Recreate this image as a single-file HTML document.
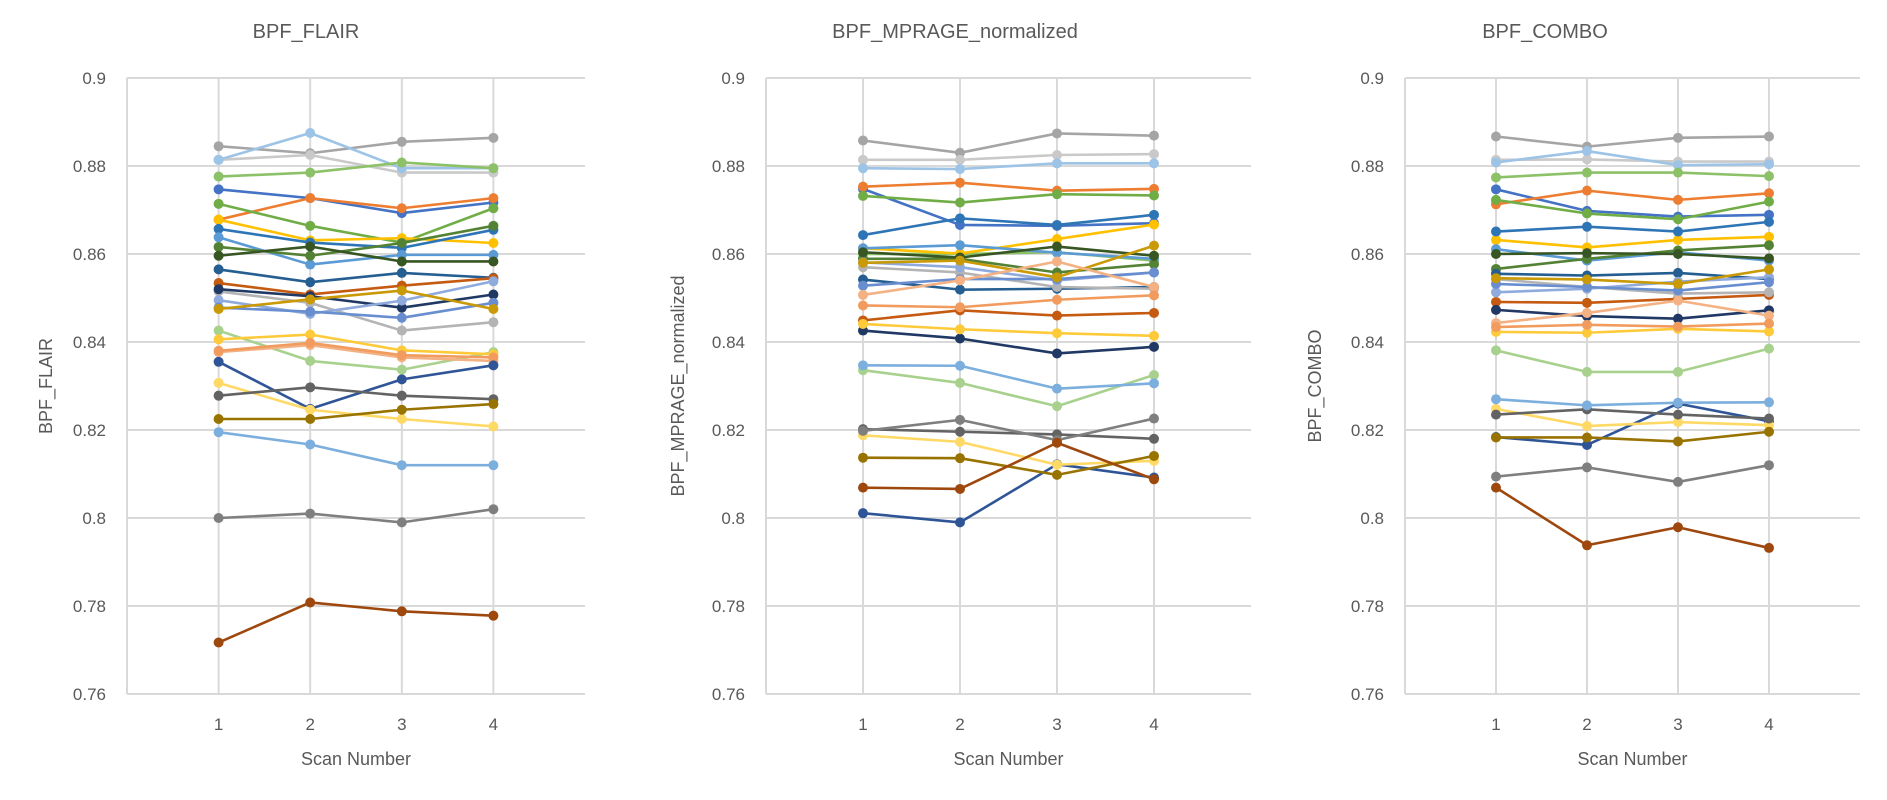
<!DOCTYPE html>
<html><head><meta charset="utf-8"><style>
html,body{margin:0;padding:0;background:#fff;}
svg{display:block;font-family:"Liberation Sans",sans-serif;}
</style></head><body>
<svg id="chart" width="1887" height="800" viewBox="0 0 1887 800" xmlns="http://www.w3.org/2000/svg"></svg>
<script>
const categories = ["1","2","3","4"];
const yTicks = [0.9,0.88,0.86,0.84,0.82,0.8,0.78,0.76];
const yTickLabels = ["0.9","0.88","0.86","0.84","0.82","0.8","0.78","0.76"];
const seriesColors = ["#A5A5A5","#C9C9C9","#9DC3E6","#8CC168","#4472C4","#ED7D31","#70AD47","#FFC000","#2E75B6","#5B9BD5","#548235","#375623","#255E91","#C55A11","#B4B4B4","#203864","#8FAADC","#698ED0","#C99A06","#A9D18E","#FFCA3A","#F4B183","#F19C5E","#2F5597","#FFD966","#636363","#997300","#7CAFDD","#7F7F7F","#9E480E"];
const panelTitles = ["BPF_FLAIR","BPF_MPRAGE_normalized","BPF_COMBO"];
const flairValues = [
[0.8845,0.8829,0.8855,0.8864],[0.8814,0.8825,0.8785,0.8785],[0.8814,0.8875,0.8795,0.8795],[0.8776,0.8785,0.8808,0.8795],
[0.8747,0.8727,0.8693,0.8717],[0.8678,0.8727,0.8704,0.8727],[0.8714,0.8664,0.8626,0.8704],[0.8678,0.8631,0.8636,0.8625],
[0.8657,0.8626,0.8614,0.8655],[0.8638,0.8576,0.8598,0.8598],[0.8616,0.8596,0.8625,0.8664],[0.8596,0.8617,0.8583,0.8583],
[0.8565,0.8536,0.8557,0.8546],[0.8534,0.8508,0.8528,0.8545],[0.8515,0.8489,0.8426,0.8445],[0.852,0.8504,0.8478,0.8508],
[0.8495,0.8464,0.8494,0.8538],[0.8478,0.8469,0.8455,0.8489],[0.8475,0.8497,0.8517,0.8475],[0.8426,0.8357,0.8337,0.8377],
[0.8406,0.8417,0.8381,0.8372],[0.8377,0.8393,0.8365,0.8357],[0.838,0.8398,0.837,0.8365],[0.8355,0.8248,0.8315,0.8347],
[0.8307,0.8246,0.8225,0.8208],[0.8278,0.8297,0.8278,0.827],[0.8225,0.8225,0.8246,0.8259],[0.8195,0.8167,0.812,0.812],
[0.80,0.801,0.799,0.802],[0.7717,0.7808,0.7788,0.7778]];
const mprageValues = [
[0.8858,0.883,0.8874,0.8869],[0.8814,0.8814,0.8825,0.8827],[0.8795,0.8793,0.8806,0.8806],[0.86,0.86,0.8604,0.8585],
[0.8748,0.8666,0.8664,0.867],[0.8753,0.8762,0.8744,0.8748],[0.8732,0.8717,0.8736,0.8733],[0.8613,0.8601,0.8634,0.8667],
[0.8643,0.8681,0.8666,0.8689],[0.8613,0.862,0.8603,0.8589],[0.8589,0.8589,0.8558,0.8577],[0.8604,0.8592,0.8617,0.8596],
[0.8542,0.8519,0.8521,0.8525],[0.8449,0.8472,0.846,0.8466],[0.857,0.8558,0.8525,0.8521],[0.8426,0.8408,0.8374,0.8389],
[0.8581,0.857,0.854,0.8558],[0.8528,0.8543,0.8543,0.8558],[0.858,0.8585,0.8547,0.8619],[0.8336,0.8307,0.8254,0.8325],
[0.8441,0.8429,0.842,0.8414],[0.8507,0.854,0.8583,0.8525],[0.8483,0.8479,0.8496,0.8506],[0.8011,0.799,0.8122,0.8092],
[0.8188,0.8173,0.8121,0.813],[0.8202,0.8196,0.819,0.818],[0.8137,0.8136,0.8098,0.8141],[0.8347,0.8346,0.8294,0.8306],
[0.8198,0.8223,0.8177,0.8226],[0.8069,0.8066,0.8171,0.8088]];
const comboValues = [
[0.8867,0.8844,0.8864,0.8867],[0.8814,0.8815,0.881,0.881],[0.8808,0.8834,0.8802,0.8804],[0.8774,0.8785,0.8785,0.8777],
[0.8747,0.8698,0.8685,0.8689],[0.8713,0.8744,0.8723,0.8738],[0.8723,0.8692,0.8679,0.8719],[0.8632,0.8615,0.8632,0.8639],
[0.8651,0.8662,0.8651,0.8673],[0.8611,0.8585,0.8604,0.8585],[0.8566,0.8589,0.8608,0.862],[0.86,0.8602,0.86,0.859],
[0.8555,0.8551,0.8557,0.8543],[0.8491,0.8489,0.8498,0.8507],[0.8543,0.8525,0.851,0.8513],[0.8473,0.8459,0.8453,0.8472],
[0.8513,0.8521,0.8537,0.8547],[0.8532,0.8525,0.8517,0.8536],[0.8545,0.8542,0.8532,0.8565],[0.8381,0.8332,0.8332,0.8385],
[0.8423,0.8421,0.843,0.8424],[0.8443,0.8466,0.8494,0.846],[0.8434,0.8439,0.8435,0.8442],[0.8184,0.8166,0.826,0.822],
[0.8248,0.8209,0.8218,0.8211],[0.8235,0.8247,0.8235,0.8226],[0.8183,0.8183,0.8174,0.8196],[0.827,0.8256,0.8262,0.8263],
[0.8094,0.8115,0.8082,0.812],[0.8069,0.7938,0.7979,0.7932]];

const NS="http://www.w3.org/2000/svg";
const svg=document.getElementById('chart');
const Y0=78, Y1=694, VMAX=0.9, VMIN=0.76;
function yScale(v){return Y0+(VMAX-v)/(VMAX-VMIN)*(Y1-Y0);}
function mk(tag,attrs,parent){const e=document.createElementNS(NS,tag);for(const k in attrs)e.setAttribute(k,attrs[k]);(parent||svg).appendChild(e);return e;}

const panels=[
 {axis:127,step:91.6,titleX:306,yTitleX:46,values:flairValues,key:"flair"},
 {axis:766,step:97,titleX:955,yTitleX:678,values:mprageValues,key:"mprage"},
 {axis:1405,step:91,titleX:1545,yTitleX:1315,values:comboValues,key:"combo"}
];
panels.forEach((p,pi)=>{
  const xScale=i=>p.axis+(i+1)*p.step;
  const right=p.axis+5*p.step;
  const g=mk('g',{});
  
  
  yTicks.forEach((t,i)=>{
    const gl=mk('line',{x1:p.axis,x2:right,y1:yScale(t),y2:yScale(t),stroke:'#D9D9D9','stroke-width':2},g);
    
    
    const tl=mk('text',{x:p.axis-21,y:yScale(t)+6,'text-anchor':'end','font-size':17,fill:'#595959'},g);
    tl.textContent=yTickLabels[i];
    
    
  });
  const ax=mk('line',{x1:p.axis,x2:p.axis,y1:Y0,y2:Y1,stroke:'#D9D9D9','stroke-width':2},g);
  
  
  categories.forEach((c,i)=>{
    const vl=mk('line',{x1:xScale(i),x2:xScale(i),y1:Y0,y2:Y1,stroke:'#D9D9D9','stroke-width':2},g);
    
    
    const xl=mk('text',{x:xScale(i),y:730,'text-anchor':'middle','font-size':17,fill:'#595959'},g);
    xl.textContent=c;
    
    
  });
  const tt=mk('text',{x:p.titleX,y:38,'text-anchor':'middle','font-size':20,fill:'#595959'},g);
  tt.textContent=panelTitles[pi];
  
  
  const xt=mk('text',{x:(p.axis+right)/2,y:765,'text-anchor':'middle','font-size':18,fill:'#595959'},g);
  xt.textContent='Scan Number';
  
  
  const yt=mk('text',{x:0,y:0,'text-anchor':'middle','font-size':18,fill:'#595959',transform:`translate(${p.yTitleX+6},386) rotate(-90)`},g);
  yt.textContent=panelTitles[pi];
  
  
  p.values.forEach((vals,si)=>{
    const col=seriesColors[si];
    const sg=mk('g',{},g);
    
    
    const pts=vals.map((v,i)=>xScale(i)+','+yScale(v)).join(' ');
    const pl=mk('polyline',{points:pts,fill:'none',stroke:col,'stroke-width':2.6,'stroke-linejoin':'round'},sg);
    
    
    vals.forEach((v,i)=>{
      const c=mk('circle',{cx:xScale(i),cy:yScale(v),r:5,fill:col},sg);
      
      
    });
  });
});
</script>
</body></html>
